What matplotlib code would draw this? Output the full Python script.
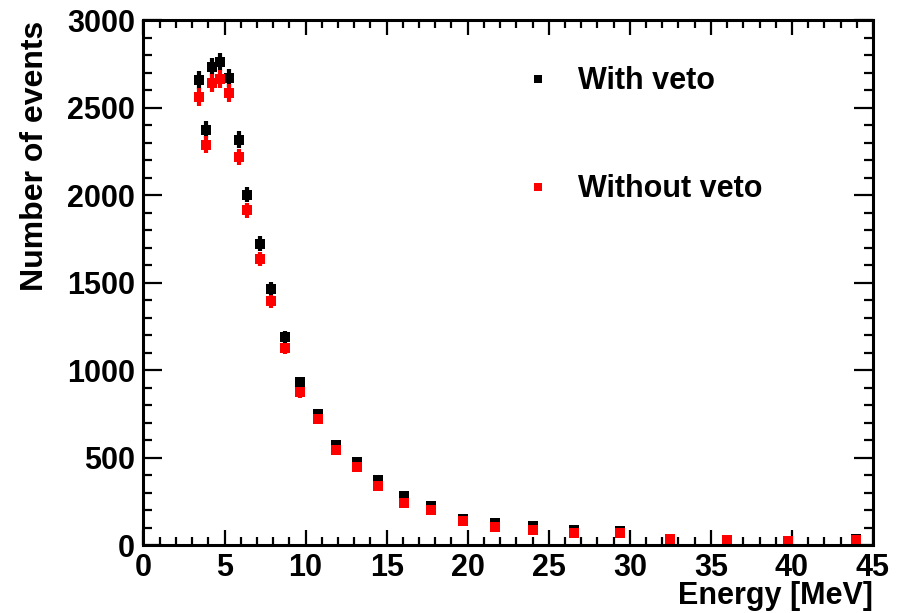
import numpy as np
import matplotlib
matplotlib.use('Agg')
import matplotlib.pyplot as plt
from matplotlib.lines import Line2D

# energy bin centres [MeV]
energy = [3.44, 3.83, 4.20, 4.73, 5.29, 5.89, 6.40, 7.16, 7.84, 8.74,
          9.67, 10.78, 11.85, 13.14, 14.46, 16.06, 17.73, 19.72, 21.67,
          24.03, 26.54, 29.38, 32.46, 35.97, 39.73, 43.98]

with_veto = [2661, 2375, 2733, 2762, 2670, 2318, 2004, 1724, 1466, 1192,
             932, 748, 573, 475, 374, 280, 226, 148, 128,
             106, 84, 80, 34, 26, 23, 32]

without_veto = [2562, 2290, 2642, 2667, 2585, 2219, 1914, 1638, 1394, 1124,
                873, 718, 543, 446, 339, 240, 200, 135, 101,
                86, 67, 71, 34, 26, 23, 29]

plt.rcParams['font.family'] = ['Liberation Sans', 'DejaVu Sans']
plt.rcParams['font.weight'] = 'bold'

fig = plt.figure(figsize=(9.07, 6.13), dpi=100)
ax = fig.add_axes([0.1582, 0.1109, 0.8043, 0.8557])

x = np.array(energy)
y1 = np.array(with_veto, dtype=float)
y2 = np.array(without_veto, dtype=float)

ax.errorbar(x, y1, yerr=np.sqrt(y1), fmt='s', color='black', ms=7.2,
            mew=0, elinewidth=3, capsize=0)
ax.errorbar(x, y2, yerr=np.sqrt(y2), fmt='s', color='red', ms=7.2,
            mew=0, elinewidth=3, capsize=0)

ax.set_xlim(0, 45)
ax.set_ylim(0, 3000)
ax.set_xticks(np.arange(0, 46, 5))
ax.set_xticks(np.arange(0, 46, 1), minor=True)
ax.set_yticks(np.arange(0, 3001, 500))
ax.set_yticks(np.arange(0, 3001, 100), minor=True)

for s in ax.spines.values():
    s.set_linewidth(2.2)

ax.tick_params(axis='both', which='both', direction='in', top=True, right=True,
               width=1.6, labelsize=22, pad=6)
ax.tick_params(axis='x', which='major', length=11)
ax.tick_params(axis='x', which='minor', length=5.5)
ax.tick_params(axis='y', which='major', length=13.5)
ax.tick_params(axis='y', which='minor', length=6.5)

ax.set_xlabel('Energy [MeV]', fontsize=22, fontweight='bold', loc='right', labelpad=-2)
ax.set_ylabel('Number of events', fontsize=23, fontweight='bold', loc='top', labelpad=12)

handles = [Line2D([], [], ls='none', marker='s', color='black', ms=6, mew=0),
           Line2D([], [], ls='none', marker='s', color='red', ms=6, mew=0)]
ax.legend(handles, ['With veto', 'Without veto'], loc='upper left',
          bbox_to_anchor=(0.482, 0.965), frameon=False,
          labelspacing=2.55, handletextpad=0.8, handlelength=1.0,
          prop={'weight': 'bold', 'size': 22})

fig.savefig('out.png', dpi=100)
